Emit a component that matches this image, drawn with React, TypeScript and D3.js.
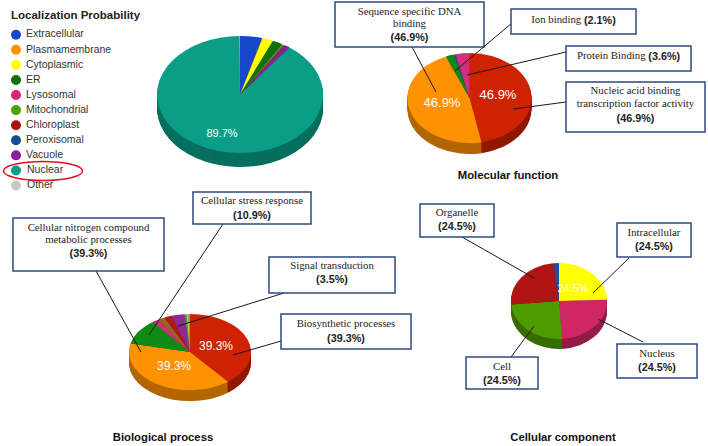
import * as d3 from "d3";

const serif = "'Liberation Serif', 'Times New Roman', serif";
const sans = "'Liberation Sans', Arial, sans-serif";
const navy = "#2b4a80";

const legendLabels = [
  "Extracellular",
  "Plasmamembrane",
  "Cytoplasmic",
  "ER",
  "Lysosomal",
  "Mitochondrial",
  "Chloroplast",
  "Peroxisomal",
  "Vacuole",
  "Nuclear",
  "Other",
];
const legendColors = [
  "#1547c8",
  "#ff9200",
  "#ffff00",
  "#0b730b",
  "#d9246f",
  "#4fa000",
  "#b01010",
  "#174a94",
  "#8e1f96",
  "#0a9e87",
  "#c8c8c8",
];

// slice values, clockwise from 12 o'clock
const localizationValues = [4.3, 0.1, 2.1, 1.9, 0.1, 0.4, 0.1, 0.1, 1.1, 89.7, 0.1];
const localizationColors = legendColors;

const molecularValues = [46.9, 46.9, 2.1, 0.5, 3.6];
const molecularColors = ["#cf2200", "#ff9200", "#0f8a14", "#2b4a9a", "#d12f78"];

const biologicalValues = [39.3, 39.3, 10.9, 1.7, 1.9, 2.0, 3.5, 0.5, 0.5, 0.4];
const biologicalColors = [
  "#cf2200",
  "#ff9200",
  "#0f8a14",
  "#c9307a",
  "#a0602a",
  "#b01818",
  "#8e2a96",
  "#5a9a20",
  "#c8c828",
  "#8a8ac0",
];

const cellularValues = [24.5, 24.5, 24.5, 24.5, 2.0];
const cellularColors = ["#ffff00", "#d12665", "#4f9c00", "#b01414", "#2b4a9a"];

type Pie3DProps = {
  values: number[];
  colors: string[];
  cx: number;
  cy: number;
  rx: number;
  ry: number;
  depth: number;
};

const Pie3D = ({ values, colors, cx, cy, rx, ry, depth }: Pie3DProps) => {
  const slices = d3
    .pie<number>()
    .sort(null)
    .value((d) => d)(values);
  const arc = d3
    .arc<d3.PieArcDatum<number>>()
    .innerRadius(0)
    .outerRadius(1);
  // stack of darker copies makes the side wall
  const layers = d3.range(depth, 0, -1);

  return (
    <g>
      {layers.map((dy) => (
        <g key={dy} transform={`translate(${cx},${cy + dy}) scale(${rx},${ry})`}>
          {slices.map((s, i) => (
            <path
              key={i}
              d={arc(s) as string}
              fill={d3.color(colors[i])!.darker(1).formatHex()}
            />
          ))}
        </g>
      ))}
      <g transform={`translate(${cx},${cy}) scale(${rx},${ry})`}>
        {slices.map((s, i) => (
          <path key={i} d={arc(s) as string} fill={colors[i]} />
        ))}
      </g>
    </g>
  );
};

const PieLabel = ({ x, y, size, text }: { x: number; y: number; size: number; text: string }) => (
  <text
    x={x}
    y={y}
    fontFamily={sans}
    fontSize={size}
    fill="#fff"
    textAnchor="middle"
    dominantBaseline="middle"
  >
    {text}
  </text>
);

type CalloutProps = {
  box: [number, number, number, number];
  leader: [number, number, number, number];
  lines: string[];
  pct: string;
  lineYs: number[];
  inline?: boolean;
};

const Callout = ({ box, leader, lines, pct, lineYs, inline }: CalloutProps) => {
  const [x0, y0, x1, y1] = box;
  const mid = (x0 + x1) / 2;
  return (
    <g>
      <line
        x1={leader[0]}
        y1={leader[1]}
        x2={leader[2]}
        y2={leader[3]}
        stroke="#1a1a1a"
        strokeWidth={1}
      />
      <rect
        x={x0}
        y={y0}
        width={x1 - x0}
        height={y1 - y0}
        fill="#fff"
        stroke={navy}
        strokeWidth={1.5}
      />
      {inline ? (
        <text
          x={mid}
          y={lineYs[0]}
          fontFamily={serif}
          fontSize={10.8}
          fill="#222"
          textAnchor="middle"
          dominantBaseline="middle"
        >
          {lines[0]}{" "}
          <tspan fontFamily={sans} fontWeight="bold">
            {pct}
          </tspan>
        </text>
      ) : (
        <>
          {lines.map((l, i) => (
            <text
              key={i}
              x={mid}
              y={lineYs[i]}
              fontFamily={serif}
              fontSize={10.8}
              fill="#222"
              textAnchor="middle"
              dominantBaseline="middle"
            >
              {l}
            </text>
          ))}
          <text
            x={mid}
            y={lineYs[lines.length]}
            fontFamily={sans}
            fontWeight="bold"
            fontSize={10.8}
            fill="#222"
            textAnchor="middle"
            dominantBaseline="middle"
          >
            {pct}
          </text>
        </>
      )}
    </g>
  );
};

const Title = ({ x, y, text }: { x: number; y: number; text: string }) => (
  <text
    x={x}
    y={y}
    fontFamily={sans}
    fontWeight="bold"
    fontSize={11.3}
    fill="#111"
    textAnchor="middle"
    dominantBaseline="middle"
  >
    {text}
  </text>
);

export default function App() {
  const legendY = d3
    .scalePoint<string>()
    .domain(legendLabels)
    .range([34.7, 185.5]);

  return (
    <svg
      width={708}
      height={446}
      style={{ position: "absolute", left: 0, top: 0, background: "#fff" }}
    >
      {/* legend */}
      <text x={11} y={19} fontFamily={sans} fontWeight="bold" fontSize={11.5} fill="#222">
        Localization Probability
      </text>
      {legendLabels.map((name, i) => (
        <g key={name}>
          <circle cx={16} cy={legendY(name)} r={5} fill={legendColors[i]} />
          <text
            x={name === "Nuclear" || name === "Other" ? 27 : 26}
            y={legendY(name)}
            fontFamily={sans}
            fontSize={10.5}
            fill="#333"
            dominantBaseline="middle"
          >
            {name}
          </text>
        </g>
      ))}
      <ellipse cx={43} cy={171} rx={39.5} ry={9.5} fill="none" stroke="#e01020" strokeWidth={1.5} />

      {/* localization */}
      <Pie3D values={localizationValues} colors={localizationColors} cx={240} cy={94.5} rx={83} ry={58.5} depth={14} />
      <PieLabel x={222} y={134} size={11} text="89.7%" />

      {/* molecular function */}
      <Pie3D values={molecularValues} colors={molecularColors} cx={469.5} cy={98} rx={62} ry={45} depth={11} />
      <PieLabel x={498} y={96} size={13} text="46.9%" />
      <PieLabel x={442} y={104} size={13} text="46.9%" />
      <Callout
        box={[335, 2, 484, 47]}
        leader={[412, 47, 436, 92]}
        lines={["Sequence specific DNA", "binding"]}
        pct="(46.9%)"
        lineYs={[13, 25, 38]}
      />
      <Callout
        box={[511, 9, 636, 34]}
        leader={[512, 23, 455, 71]}
        lines={["Ion binding"]}
        pct="(2.1%)"
        lineYs={[21]}
        inline
      />
      <Callout
        box={[566, 46, 691, 71]}
        leader={[566, 52, 467, 75]}
        lines={["Protein Binding"]}
        pct="(3.6%)"
        lineYs={[57]}
        inline
      />
      <Callout
        box={[566, 82, 705, 132]}
        leader={[566, 102, 513, 109]}
        lines={["Nucleic acid binding", "transcription factor activity"]}
        pct="(46.9%)"
        lineYs={[92, 105, 119]}
      />
      <Title x={508} y={176} text="Molecular function" />

      {/* biological process */}
      <Pie3D values={biologicalValues} colors={biologicalColors} cx={190} cy={352} rx={61} ry={38} depth={11} />
      <PieLabel x={216} y={347} size={12} text="39.3%" />
      <PieLabel x={174} y={367} size={12} text="39.3%" />
      <Callout
        box={[13, 218, 164, 271]}
        leader={[96, 271, 141, 352]}
        lines={["Cellular nitrogen compound", "metabolic processes"]}
        pct="(39.3%)"
        lineYs={[229, 241, 254]}
      />
      <Callout
        box={[193, 192, 311, 224]}
        leader={[223, 224, 149, 335]}
        lines={["Cellular stress response"]}
        pct="(10.9%)"
        lineYs={[202, 216]}
      />
      <Callout
        box={[269, 257, 395, 293]}
        leader={[284, 293, 178, 326]}
        lines={["Signal transduction"]}
        pct="(3.5%)"
        lineYs={[267, 280]}
      />
      <Callout
        box={[281, 314, 411, 349]}
        leader={[281, 341, 233, 355]}
        lines={["Biosynthetic processes"]}
        pct="(39.3%)"
        lineYs={[325, 339]}
      />
      <Title x={163} y={438} text="Biological process" />

      {/* cellular component */}
      <Pie3D values={cellularValues} colors={cellularColors} cx={559} cy={301} rx={48} ry={38} depth={10} />
      <PieLabel x={573} y={289} size={11} text="24.5%" />
      <Callout
        box={[420, 204, 494, 237]}
        leader={[455, 233, 534, 278]}
        lines={["Organelle"]}
        pct="(24.5%)"
        lineYs={[214, 227]}
      />
      <Callout
        box={[617, 223, 691, 257]}
        leader={[629, 258, 593, 293]}
        lines={["Intracellular"]}
        pct="(24.5%)"
        lineYs={[234, 247]}
      />
      <Callout
        box={[617, 344, 697, 378]}
        leader={[643, 342, 598, 319]}
        lines={["Nucleus"]}
        pct="(24.5%)"
        lineYs={[355, 368]}
      />
      <Callout
        box={[466, 357, 538, 389]}
        leader={[511, 357, 534, 326]}
        lines={["Cell"]}
        pct="(24.5%)"
        lineYs={[368, 381]}
      />
      <Title x={563} y={438} text="Cellular component" />
    </svg>
  );
}
